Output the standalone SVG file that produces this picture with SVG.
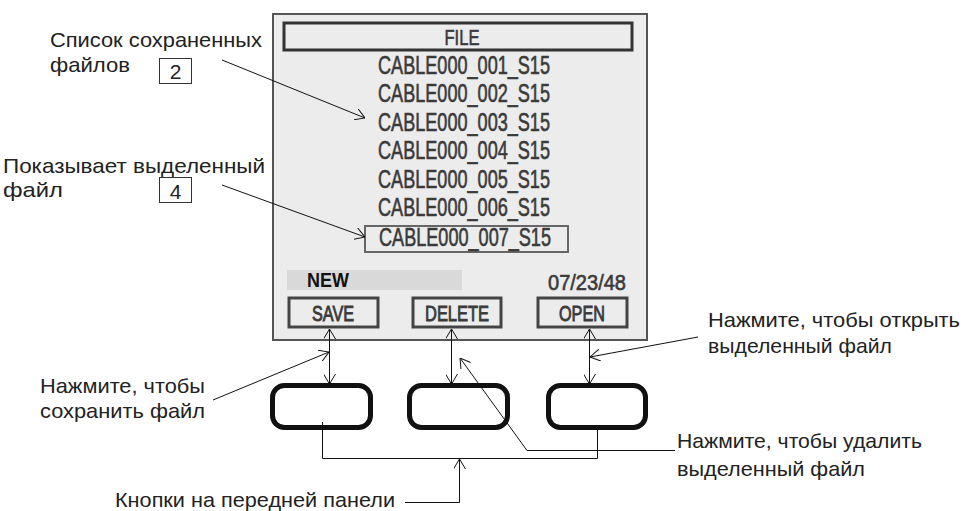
<svg xmlns="http://www.w3.org/2000/svg" width="963" height="511" viewBox="0 0 963 511">
<defs>
<marker id="ah" viewBox="0 0 10 12" refX="10" refY="6" markerWidth="10" markerHeight="12" markerUnits="userSpaceOnUse" orient="auto-start-reverse">
<path d="M0,0 L10,6 L0,12" fill="none" stroke="#111" stroke-width="1"/>
</marker>
</defs>
<style>
.lbl{font-family:"Liberation Sans",Arial,sans-serif;font-size:21px;fill:#222}
.scr{font-family:"Liberation Sans",Arial,sans-serif;fill:#3a3a3a;stroke:#3a3a3a;stroke-width:0.6;text-anchor:middle}
.row{font-size:25px}
.btn{font-size:22px;stroke-width:0.9}
.sbtn{fill:none;stroke:#444;stroke-width:3}
.phys{fill:#fff;stroke:#111;stroke-width:5}
.ln{fill:none;stroke:#111;stroke-width:1}
.box{fill:#fff;stroke:#333;stroke-width:1}
</style>
<rect width="963" height="511" fill="#fff"/>
<g id="screen">
<rect x="273" y="14" width="374" height="326" fill="#ececec" stroke="#555" stroke-width="2"/>
<rect x="284" y="23" width="348" height="27" fill="none" stroke="#333" stroke-width="3"/>
<text class="scr" x="462" y="45" font-size="22" stroke-width="0.9" textLength="35" lengthAdjust="spacingAndGlyphs">FILE</text>
<text class="scr row" x="464" y="73.5" textLength="172" lengthAdjust="spacingAndGlyphs">CABLE000_001_S15</text>
<text class="scr row" x="464" y="102" textLength="172" lengthAdjust="spacingAndGlyphs">CABLE000_002_S15</text>
<text class="scr row" x="464" y="130.5" textLength="172" lengthAdjust="spacingAndGlyphs">CABLE000_003_S15</text>
<text class="scr row" x="464" y="159" textLength="172" lengthAdjust="spacingAndGlyphs">CABLE000_004_S15</text>
<text class="scr row" x="464" y="187.5" textLength="172" lengthAdjust="spacingAndGlyphs">CABLE000_005_S15</text>
<text class="scr row" x="464" y="216" textLength="172" lengthAdjust="spacingAndGlyphs">CABLE000_006_S15</text>
<rect x="365" y="226" width="203" height="26" fill="none" stroke="#666" stroke-width="2"/>
<text class="scr row" x="465" y="246" textLength="172" lengthAdjust="spacingAndGlyphs">CABLE000_007_S15</text>
<rect x="287" y="270" width="175" height="20" fill="#d9d9d9"/>
<text x="307" y="287" font-family="'Liberation Sans',Arial,sans-serif" font-weight="bold" font-size="20" fill="#111" textLength="42" lengthAdjust="spacingAndGlyphs">NEW</text>
<text class="scr" x="587" y="290" font-size="22" textLength="78" lengthAdjust="spacingAndGlyphs">07/23/48</text>
</g>
<g id="btn-save">
<rect class="sbtn" x="289" y="298" width="89" height="29"/>
<text class="scr btn" x="333" y="321" textLength="42" lengthAdjust="spacingAndGlyphs">SAVE</text>
</g>
<g id="btn-delete">
<rect class="sbtn" x="413" y="298" width="88" height="29"/>
<text class="scr btn" x="457" y="321" textLength="64" lengthAdjust="spacingAndGlyphs">DELETE</text>
</g>
<g id="btn-open">
<rect class="sbtn" x="538" y="298" width="89" height="29"/>
<text class="scr btn" x="582" y="321" textLength="46" lengthAdjust="spacingAndGlyphs">OPEN</text>
</g>
<g id="phys-1"><rect class="phys" x="272.5" y="385.5" width="98" height="42" rx="12"/></g>
<g id="phys-2"><rect class="phys" x="409.5" y="385.5" width="98" height="42" rx="12"/></g>
<g id="phys-3"><rect class="phys" x="548.5" y="385.5" width="97" height="42" rx="12"/></g>
<g id="label-list">
<text class="lbl" x="50" y="47" textLength="212" lengthAdjust="spacingAndGlyphs">Список сохраненных</text>
<text class="lbl" x="50" y="72" textLength="80" lengthAdjust="spacingAndGlyphs">файлов</text>
<rect class="box" x="159.5" y="58.5" width="32" height="25"/>
<text class="lbl" x="175.5" y="79" text-anchor="middle">2</text>
</g>
<g id="label-selected">
<text class="lbl" x="3" y="173" textLength="262" lengthAdjust="spacingAndGlyphs">Показывает выделенный</text>
<text class="lbl" x="3" y="197" textLength="60" lengthAdjust="spacingAndGlyphs">файл</text>
<rect class="box" x="159.5" y="177.5" width="32" height="25"/>
<text class="lbl" x="175.5" y="199" text-anchor="middle">4</text>
</g>
<g id="label-save">
<text class="lbl" x="40" y="393" textLength="165" lengthAdjust="spacingAndGlyphs">Нажмите, чтобы</text>
<text class="lbl" x="40" y="418" textLength="165" lengthAdjust="spacingAndGlyphs">сохранить файл</text>
</g>
<g id="label-open">
<text class="lbl" x="708" y="327" textLength="252" lengthAdjust="spacingAndGlyphs">Нажмите, чтобы открыть</text>
<text class="lbl" x="708" y="353" textLength="184" lengthAdjust="spacingAndGlyphs">выделенный файл</text>
</g>
<g id="label-delete">
<text class="lbl" x="677" y="448" textLength="245" lengthAdjust="spacingAndGlyphs">Нажмите, чтобы удалить</text>
<text class="lbl" x="677" y="476" textLength="188" lengthAdjust="spacingAndGlyphs">выделенный файл</text>
</g>
<g id="label-panel">
<text class="lbl" x="115" y="507" textLength="280" lengthAdjust="spacingAndGlyphs">Кнопки на передней панели</text>
</g>
<g id="connectors">
<line class="ln" x1="222" y1="60" x2="365" y2="118" marker-end="url(#ah)"/>
<line class="ln" x1="222" y1="185" x2="365" y2="237" marker-end="url(#ah)"/>
<line class="ln" x1="329.5" y1="329" x2="329.5" y2="384" marker-start="url(#ah)" marker-end="url(#ah)"/>
<line class="ln" x1="451.5" y1="329" x2="451.5" y2="384" marker-start="url(#ah)" marker-end="url(#ah)"/>
<line class="ln" x1="589.5" y1="329" x2="589.5" y2="384" marker-start="url(#ah)" marker-end="url(#ah)"/>
<line class="ln" x1="213" y1="400" x2="329" y2="352" marker-end="url(#ah)"/>
<line class="ln" x1="698" y1="337" x2="590" y2="357" marker-end="url(#ah)"/>
<polyline class="ln" points="675,450.5 527,450.5 460,358" marker-end="url(#ah)"/>
<polyline class="ln" points="322.5,422 322.5,458.5 597.5,458.5 597.5,430"/>
<polyline class="ln" points="405,502.5 459.5,502.5 459.5,459" marker-end="url(#ah)"/>
</g>
</svg>
